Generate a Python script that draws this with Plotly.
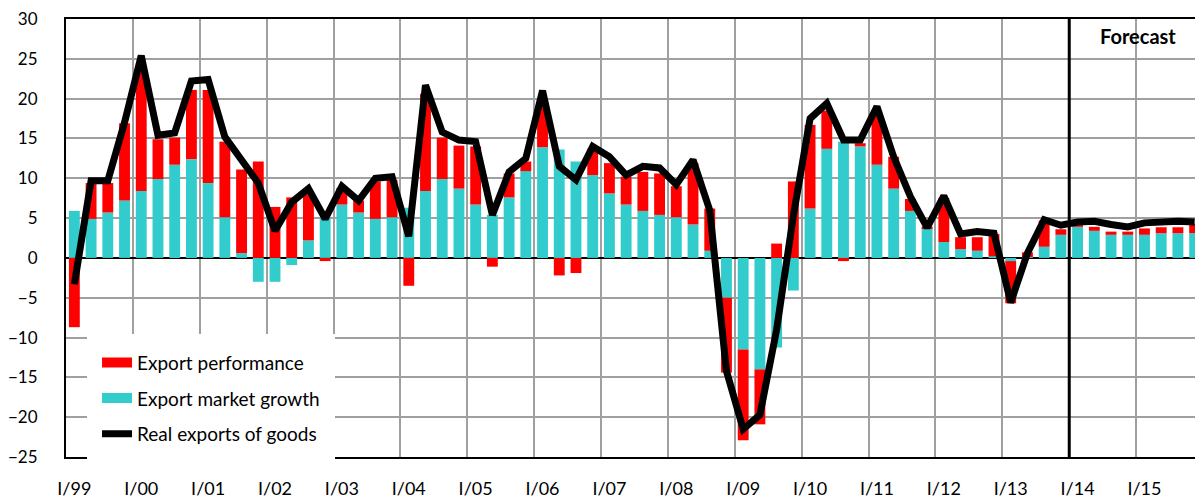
import plotly.graph_objects as go

quarters = [f"{q}/{y:02d}" for y in list(range(99, 100)) + list(range(0, 16)) for q in ["I", "II", "III", "IV"]]
year_labels = ["I/99", "I/00", "I/01", "I/02", "I/03", "I/04", "I/05", "I/06", "I/07",
               "I/08", "I/09", "I/10", "I/11", "I/12", "I/13", "I/14", "I/15"]

market_growth = [5.9, 4.9, 5.7, 7.2, 8.4, 9.9, 11.7, 12.4, 9.4, 5.1, 0.6, -3.0,
                 -3.0, -0.9, 2.2, 5.0, 6.7, 5.7, 4.9, 5.1, 6.3, 8.4, 9.9, 8.7,
                 6.7, 5.4, 7.6, 10.9, 13.9, 13.6, 12.1, 10.4, 8.1, 6.7, 5.9, 5.4,
                 5.1, 4.2, 0.9, -5.0, -11.5, -14.0, -11.25, -4.1, 6.2, 13.7, 14.6, 14.0,
                 11.7, 8.7, 5.9, 3.75, 2.0, 1.1, 0.9, 0.2, -0.4, 0.1, 1.4, 2.9,
                 3.9, 3.4, 2.9, 2.9, 2.9, 3.1, 3.1, 3.1]

performance = [-8.7, 4.5, 3.7, 9.7, 15.1, 5.0, 3.4, 8.7, 11.7, 9.5, 10.5, 12.1,
               6.4, 7.6, 5.8, -0.4, 2.1, 1.5, 4.7, 4.7, -3.5, 12.2, 5.2, 5.4,
               7.3, -1.1, 3.0, 1.2, 6.1, -2.2, -1.9, 3.3, 3.8, 3.5, 4.9, 5.2,
               3.9, 7.7, 5.3, -9.4, -11.4, -6.9, 1.8, 9.6, 10.5, 4.8, -0.4, 0.4,
               6.2, 4.0, 1.5, 0.2, 5.5, 1.5, 1.7, 2.8, -5.3, 0.6, 3.3, 0.7,
               0.3, 0.5, 0.4, 0.4, 0.8, 0.75, 0.75, 1.2]

real_exports = [-3.3, 9.7, 9.7, 17.0, 25.4, 15.4, 15.7, 22.2, 22.4, 15.2, 12.3, 9.4,
                3.4, 7.0, 8.7, 4.9, 9.0, 7.2, 10.0, 10.2, 2.7, 21.7, 15.8, 14.8,
                14.6, 5.4, 10.8, 12.5, 21.0, 11.5, 9.8, 14.0, 12.7, 10.4, 11.5, 11.3,
                9.2, 12.3, 6.0, -14.2, -21.5, -19.7, -9.0, 5.3, 17.5, 19.4, 14.8, 14.8,
                19.0, 12.7, 7.7, 3.8, 7.8, 3.0, 3.3, 3.1, -5.6, 0.6, 4.8, 4.1,
                4.5, 4.6, 4.2, 3.9, 4.4, 4.6, 4.6, 4.5]

forecast_start = 60  # index of I/14

x = list(range(len(quarters)))
RED = "#FF0000"
CYAN = "#33CCCC"
FONT = "Lato"

fig = go.Figure()
fig.add_trace(go.Bar(x=x, y=market_growth, marker_color=CYAN, marker_line_width=0,
                     name="Export market growth", showlegend=False, hovertext=quarters))
fig.add_trace(go.Bar(x=x, y=performance, marker_color=RED, marker_line_width=0,
                     name="Export performance", showlegend=False, hovertext=quarters))
fig.add_trace(go.Scatter(x=x, y=real_exports, mode="lines", line=dict(color="black", width=7),
                         name="Real exports of goods", showlegend=False, hovertext=quarters))

# legend entries
fig.add_trace(go.Scatter(x=[None], y=[None], mode="lines", line=dict(color=RED, width=13),
                         name="Export performance", legendgroup="a"))
fig.add_trace(go.Scatter(x=[None], y=[None], mode="lines", line=dict(color=CYAN, width=13),
                         name="Export market growth", legendgroup="b"))
fig.add_trace(go.Scatter(x=[None], y=[None], mode="lines", line=dict(color="black", width=7),
                         name="Real exports of goods", legendgroup="c"))

fig.add_shape(type="line", xref="x", yref="paper", x0=forecast_start - 0.5, x1=forecast_start - 0.5,
              y0=0, y1=1, line=dict(color="black", width=3), layer="above")
fig.add_annotation(x=(forecast_start + len(x) - 1) / 2 + 0.1, xref="x", y=0.9615, yref="paper",
                   yanchor="middle", xanchor="center",
                   text="<b>Forecast</b>", showarrow=False,
                   font=dict(family=FONT, size=20, color="black"))

# page body has an 8px margin: figure sized/offset to compensate
fig.update_layout(
    width=1195, height=491,
    margin=dict(l=48, r=0, t=8, b=41),
    barmode="relative", bargap=0.35,
    plot_bgcolor="white", paper_bgcolor="white",
    font=dict(family=FONT, size=17, color="black"),
    legend=dict(x=0.0185, y=-0.015, xanchor="left", yanchor="bottom", bgcolor="white",
                bordercolor="white", borderwidth=10,
                font=dict(family=FONT, size=19, color="black"),
                traceorder="grouped", tracegroupgap=8),
    xaxis=dict(range=[-0.5, len(x) - 0.5], tickmode="array",
               tickvals=list(range(0, len(x), 4)), ticktext=year_labels,
               showgrid=False, showline=True, linecolor="black", linewidth=2, mirror=True,
               ticks="", ticklabelstandoff=14, zeroline=False, ticklabeloverflow="allow",
               tickfont=dict(family=FONT, size=18, color="black"),
               minor=dict(tickmode="linear", tick0=-0.5, dtick=4, showgrid=True,
                          gridcolor="#A0A0A0", gridwidth=1.5, ticks="")),
    yaxis=dict(range=[-25, 30], dtick=5, tick0=0, showgrid=True, gridcolor="#A0A0A0", gridwidth=1.5,
               showline=True, linecolor="black", linewidth=2, ticks="", ticklabelstandoff=23,
               ticklabeloverflow="allow",
               zeroline=True, zerolinecolor="black", zerolinewidth=2),
)

fig.write_html("out.html")
